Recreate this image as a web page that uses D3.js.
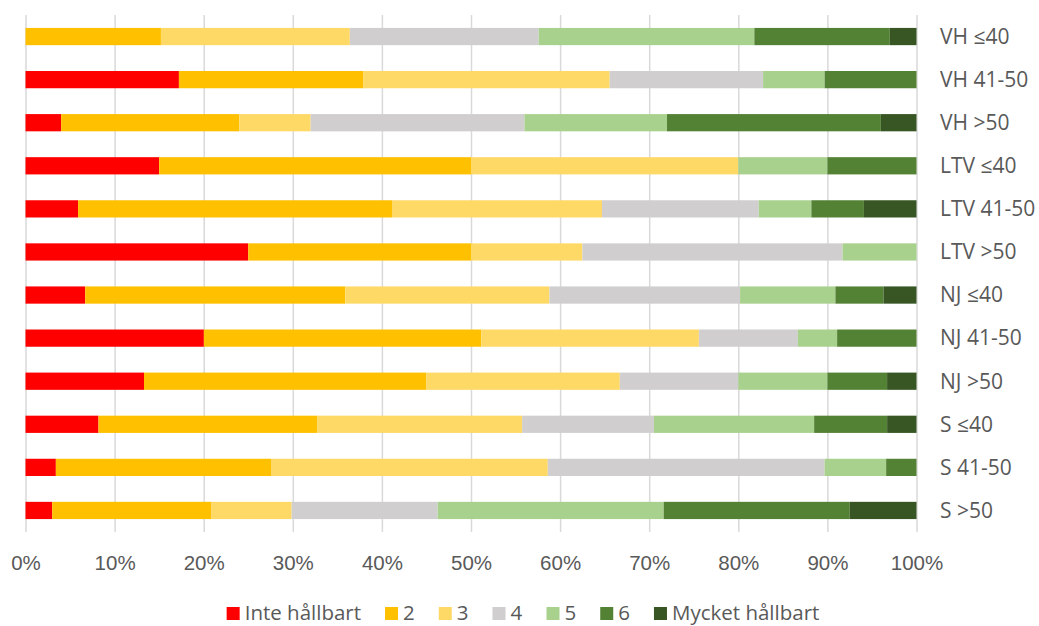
<!DOCTYPE html>
<html>
<head>
<meta charset="utf-8">
<script src="https://cdn.jsdelivr.net/npm/d3@7"></script>
<style>
  body { margin: 0; background: #fff; }
  svg { display: block; font-family: "Open Sans", sans-serif; }
  text { fill: #595959; }
</style>
</head>
<body>
<svg></svg>
<script>
/* data (percent of answers per group) */
let categories = ["VH ≤40", "VH 41-50", "VH >50", "LTV ≤40", "LTV 41-50", "LTV >50",
                  "NJ ≤40", "NJ 41-50", "NJ >50", "S ≤40", "S 41-50", "S >50"];
let seriesNames = ["Inte hållbart", "2", "3", "4", "5", "6", "Mycket hållbart"];
let inte   = [0,    17.2, 4,  15, 5.9,  25,   6.7,  20.0, 13.3, 8.2,  3.4,  3.0];
let s2     = [15.2, 20.7, 20, 35, 35.3, 25,   29.2, 31.1, 31.7, 24.6, 24.1, 17.9];
let s3     = [21.2, 27.6, 8,  30, 23.5, 12.5, 22.9, 24.4, 21.7, 23.0, 31.0, 9.0];
let s4     = [21.2, 17.2, 24, 0,  17.6, 29.2, 21.4, 11.1, 13.3, 14.8, 31.0, 16.4];
let s5     = [24.2, 6.9,  16, 10, 5.9,  8.3,  10.7, 4.4,  10.0, 18.0, 6.9,  25.4];
let s6     = [15.2, 10.3, 24, 10, 5.9,  0,    5.4,  8.9,  6.7,  8.2,  3.4,  20.9];
let mycket = [3.0,  0,    4,  0,  5.9,  0,    3.7,  0,    3.3,  3.3,  0,    7.5];
let tickValues = [0, 0.1, 0.2, 0.3, 0.4, 0.5, 0.6, 0.7, 0.8, 0.9, 1];

let colors = ["#FF0000", "#FFC000", "#FFD966", "#D0CECE", "#A9D18E", "#548235", "#375623"];

/* basic setup */
let svgWidth = 1039;
let svgHeight = 626;
const svg = d3.select("svg")
    .attr("width", svgWidth)
    .attr("height", svgHeight);

let plotTop = 15, plotBottom = 532;

// one row object per category for d3.stack
let allSeries = [inte, s2, s3, s4, s5, s6, mycket];
let rows = categories.map(function (c, i) {
    let r = { cat: c };
    seriesNames.forEach(function (s, j) { r[s] = allSeries[j][i]; });
    return r;
});

let stacked = d3.stack()
    .keys(seriesNames)
    .offset(d3.stackOffsetExpand)(rows);

let x = d3.scaleLinear().domain([0, 1]).range([25.5, 916.5]);
let y = d3.scaleBand().domain(categories)
    .range([plotTop, plotBottom])
    .paddingInner(0.6)
    .paddingOuter(0.3);
let color = d3.scaleOrdinal().domain(seriesNames).range(colors);

/* gridlines + tick labels */
let xAxis = svg.append("g")
    .attr("transform", "translate(0," + plotBottom + ")")
    .call(d3.axisBottom(x)
        .tickValues(tickValues)
        .tickFormat(d3.format(".0%"))
        .tickSize(-(plotBottom - plotTop)));
xAxis.select(".domain").remove();
xAxis.selectAll("line").attr("stroke", "#D9D9D9").attr("stroke-width", 1.5);
xAxis.selectAll("text")
    .attr("y", 31)
    .attr("dy", "0.35em")
    .attr("font-size", 20.5)
    .attr("fill", "#595959");

/* bars */
svg.append("g")
    .selectAll("g")
    .data(stacked)
    .enter()
    .append("g")
    .attr("fill", function (d) { return color(d.key); })
    .selectAll("rect")
    .data(function (d) { return d; })
    .enter()
    .append("rect")
    .attr("x", function (d) { return x(d[0]); })
    .attr("width", function (d) { return x(d[1]) - x(d[0]); })
    .attr("y", function (d) { return y(d.data.cat); })
    .attr("height", y.bandwidth());

/* category labels on the right */
svg.append("g")
    .selectAll("text")
    .data(categories)
    .enter()
    .append("text")
    .attr("x", 940)
    .attr("y", function (d) { return y(d) + y.bandwidth() / 2; })
    .attr("dy", "0.35em")
    .attr("font-size", 21)
    .text(function (d) { return d; });

/* legend */
let legend = svg.append("g");
let boxSize = 13, textGap = 5, itemGap = 24;
let items = legend.selectAll("g")
    .data(seriesNames)
    .enter()
    .append("g");
items.append("rect")
    .attr("width", boxSize)
    .attr("height", boxSize)
    .attr("y", 607)
    .attr("fill", function (d) { return color(d); });
items.append("text")
    .attr("x", boxSize + textGap)
    .attr("y", 620)
    .attr("font-size", 20.5)
    .text(function (d) { return d; });

// lay items out one after another, centred
let widths = [];
items.each(function () { widths.push(this.getBBox().width); });
let total = d3.sum(widths) + itemGap * (widths.length - 1);
let cursor = 523 - total / 2;
items.attr("transform", function (d, i) {
    let t = "translate(" + cursor + ",0)";
    cursor += widths[i] + itemGap;
    return t;
});
</script>
</body>
</html>
